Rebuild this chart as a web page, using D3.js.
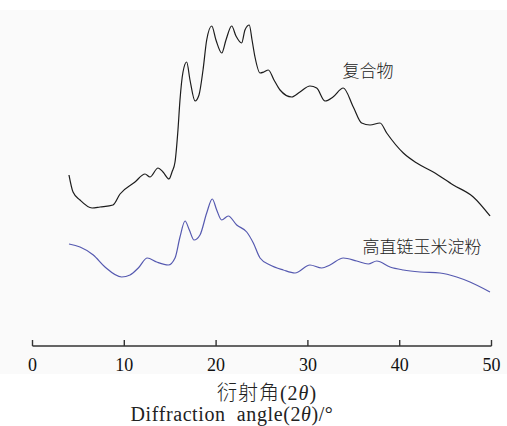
<!DOCTYPE html>
<html>
<head>
<meta charset="utf-8">
<script src="https://cdn.jsdelivr.net/npm/d3@7"></script>
<style>
  body { margin: 0; background: #fff; }
  svg { display: block; }
</style>
</head>
<body>
<svg width="507" height="426"></svg>
<script>
// 2theta (deg) and relative intensity
var angleC = [4.03, 4.47, 5.23, 6.54, 7.41, 8.82, 9.59, 11.22, 12.31, 12.85, 13.73, 14.27, 14.92, 15.25, 15.58, 15.90,
              16.12, 16.45, 16.85, 17.21, 17.76, 18.19, 18.63, 19.03, 19.58, 20.04, 20.67, 21.13, 21.75, 22.22, 22.84,
              23.20, 23.67, 23.97, 24.29, 24.84, 25.27, 25.74, 26.36, 27.02, 28.29, 29.19, 30.28, 31.01, 31.92, 32.79,
              33.91, 35.00, 35.91, 36.82, 37.91, 38.64, 40.45, 41.91, 43.71, 45.89, 48.07, 49.89],
    intenC = [171, 154, 146, 138, 139, 141, 152, 164, 172, 169, 178, 174, 167, 174, 184, 216,
              246, 274, 284, 266, 245, 251, 276, 306, 320, 306, 293, 306, 320, 310, 303,
              316, 321, 306, 289, 273, 274, 276, 266, 256, 249, 254, 260, 258, 245, 249,
              258, 239, 223, 221, 223, 213, 193, 183, 174, 161, 149, 130];

var angleA = [4.03, 5.23, 6.68, 7.95, 9.77, 10.68, 11.58, 12.56, 13.58, 14.85, 15.58, 16.12, 16.67, 17.14, 17.65,
              18.30, 19.03, 19.64, 20.12, 20.66, 21.38, 22.30, 23.39, 24.11, 24.84, 25.93, 27.37, 28.65, 30.28,
              31.56, 32.46, 33.91, 35.37, 36.63, 37.55, 39.00, 40.45, 42.27, 44.44, 46.26, 47.71, 49.89],
    intenA = [102, 99, 91, 79, 69, 71, 78, 88, 84, 81, 88, 109, 125, 116, 106,
              111, 133, 147, 136, 126, 130, 121, 114, 103, 88, 81, 76, 73, 81,
              78, 81, 88, 85, 82, 85, 79, 76, 74, 73, 69, 64, 54];

var xTicks = [0, 10, 20, 30, 40, 50];
var labelC = "复合物",
    labelA = "高直链玉米淀粉";

var svg = d3.select("svg"),
    margin = {top: 16, right: 16, bottom: 80, left: 32},
    width = +svg.attr("width") - margin.left - margin.right,
    height = +svg.attr("height") - margin.top - margin.bottom;

svg.append("rect")
    .attr("x", 0).attr("y", 10)
    .attr("width", 507).attr("height", 364)
    .attr("fill", "#fafafa");

var g = svg.append("g").attr("transform", "translate(" + margin.left + "," + margin.top + ")");

var x = d3.scaleLinear()
    .domain([0, 50])
    .range([0, 459]);

var y = d3.scaleLinear()
    .domain([0, 330])
    .range([height, 0]);

var line = d3.line()
    .curve(d3.curveMonotoneX)
    .x(function(d) { return x(d[0]); })
    .y(function(d) { return y(d[1]); });

var axis = g.append("g")
    .attr("transform", "translate(0," + y(0) + ")")
    .call(d3.axisBottom(x).tickValues(xTicks).tickSize(-6).tickPadding(12).tickFormat(d3.format("d")));

axis.select(".domain").attr("stroke", "#333").attr("stroke-width", 1.6).attr("d", "M0.5,0H459.5");
axis.selectAll(".tick line").attr("stroke", "#333").attr("stroke-width", 1.4);
axis.selectAll(".tick text")
    .attr("fill", "#111")
    .style("font-family", "'Liberation Serif', 'DejaVu Serif', serif")
    .style("font-size", "18px");

g.append("path")
    .datum(d3.zip(angleC, intenC))
    .attr("fill", "none")
    .attr("stroke", "#1c1c1c")
    .attr("stroke-width", 1.2)
    .attr("d", line);

g.append("path")
    .datum(d3.zip(angleA, intenA))
    .attr("fill", "none")
    .attr("stroke", "#5559b0")
    .attr("stroke-width", 1.2)
    .attr("d", line);

var cjk = "'Noto Sans CJK SC', sans-serif";

svg.append("text")
    .attr("x", 368).attr("y", 77)
    .attr("text-anchor", "middle")
    .style("font-family", cjk)
    .style("font-size", "17px")
    .style("font-weight", 300)
    .attr("fill", "#222")
    .text(labelC);

svg.append("text")
    .attr("x", 422).attr("y", 253)
    .attr("text-anchor", "middle")
    .style("font-family", cjk)
    .style("font-size", "17px")
    .style("font-weight", 300)
    .attr("fill", "#222")
    .text(labelA);

var serif = "'Liberation Serif', 'Noto Sans CJK SC', serif";

var t1 = svg.append("text")
    .attr("x", 267).attr("y", 400)
    .attr("text-anchor", "middle")
    .style("font-family", serif)
    .style("font-size", "20px")
    .style("letter-spacing", "1px")
    .attr("fill", "#222");
t1.append("tspan").style("font-weight", 300).text("衍射角");
t1.append("tspan").text("(2");
t1.append("tspan").style("font-style", "italic").text("θ");
t1.append("tspan").text(")");

var t2 = svg.append("text")
    .attr("x", 232).attr("y", 421)
    .attr("text-anchor", "middle")
    .style("font-family", serif)
    .style("font-size", "20px")
    .style("letter-spacing", "0.6px")
    .style("white-space", "pre")
    .attr("fill", "#222");
t2.append("tspan").text("Diffraction  angle(2");
t2.append("tspan").style("font-style", "italic").text("θ");
t2.append("tspan").text(")/°");
</script>
</body>
</html>
